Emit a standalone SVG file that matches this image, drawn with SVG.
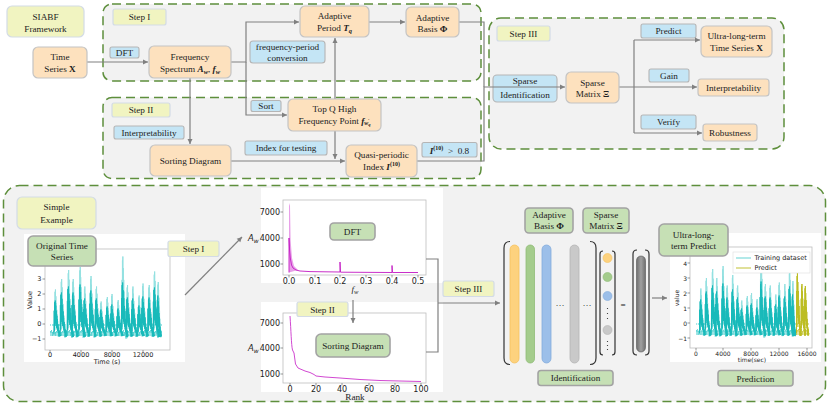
<svg xmlns="http://www.w3.org/2000/svg" xmlns:xlink="http://www.w3.org/1999/xlink" width="830" height="406" viewBox="0 0 830 406">
<style>
.t{font-family:"Liberation Serif","Times New Roman",serif;font-size:9.2px;fill:#222;text-anchor:middle;dominant-baseline:central}
.bi{font-weight:bold;font-style:italic}
.c{fill:#f2f2f2;stroke:#5e8f3c;stroke-width:1.5;stroke-dasharray:9 5}
.pe{fill:#fde1be;stroke:#c4c4c4;stroke-width:1.2}
.ye{fill:#f1f4c1;stroke:#d3dbe6;stroke-width:1.2}
.bl{fill:#c4e5f5;stroke:#b5b5b5;stroke-width:1.1}
.gr{fill:#c6e0b5;stroke:#a3a3a3;stroke-width:1.6}
.ln{fill:none;stroke:#808080;stroke-width:1.2}
.ar{marker-end:url(#ah)}
.tk{font-family:"DejaVu Sans",sans-serif;fill:#222;dominant-baseline:central}
.ax{fill:none;stroke:#bdbdbd;stroke-width:0.8}
.tm{fill:none;stroke:#555;stroke-width:0.6}
.wb{fill:#fff}
.br{fill:none;stroke:#333;stroke-width:1.2}
</style>
<defs>
<marker id="ah" markerWidth="6" markerHeight="6" refX="5" refY="3" orient="auto" markerUnits="userSpaceOnUse">
<path d="M0,0.5 L5,3 L0,5.5 z" fill="#808080"/>
</marker>
<path id="b" vector-effect="non-scaling-stroke" fill="none" d="M0,0 L0.4,-0.7 L0.8,-0.1 L1.2,-0.95 L1.5,-0.3 L1.9,-1 L2.3,-0.35 L2.7,-0.85 L3.1,-0.25 L3.5,-0.7 L3.9,-0.2 L4.3,-0.55 L4.7,-0.15 L5.1,-0.45 L5.5,-0.1 L5.9,-0.3 L6.3,-0.05 L6.7,-0.2 L7.1,0.05 L7.5,-0.12 L8,0.05 L8.5,-0.08 L9,0.05 L10,0"/>
<pattern id="nz" width="3" height="12" patternUnits="userSpaceOnUse" patternTransform="translate(0,3)">
<path d="M0,6 L0.5,3 L1,9 L1.5,5 L2,11 L2.5,4 L3,6" fill="none" stroke="#22c2c2" stroke-width="0.5"/>
</pattern>
<pattern id="nz2" width="3" height="12" patternUnits="userSpaceOnUse" patternTransform="translate(0,2)">
<path d="M0,6 L0.5,3 L1,9 L1.5,5 L2,11 L2.5,4 L3,6" fill="none" stroke="#bcbd22" stroke-width="0.5"/>
</pattern>
<linearGradient id="gb" x1="0" y1="0" x2="1" y2="0">
<stop offset="0" stop-color="#6f6f6f"/><stop offset="0.5" stop-color="#a0a0a0"/><stop offset="1" stop-color="#6f6f6f"/>
</linearGradient>
<g id="ser1">
<rect x="50" y="324" width="112" height="12" fill="url(#nz)"/>
<g stroke="#93e1e1">
<use xlink:href="#b" transform="translate(54.4,334.5) scale(0.55,45)"/>
<use xlink:href="#b" transform="translate(60.6,334.5) scale(0.55,55.5)"/>
<use xlink:href="#b" transform="translate(67.6,334.5) scale(0.55,64.5)"/>
<use xlink:href="#b" transform="translate(72.2,334.5) scale(0.55,55.5)"/>
<use xlink:href="#b" transform="translate(79.2,334.5) scale(0.55,67.5)"/>
<use xlink:href="#b" transform="translate(83.8,334.5) scale(0.55,48)"/>
<use xlink:href="#b" transform="translate(90,334.5) scale(0.55,58.5)"/>
<use xlink:href="#b" transform="translate(95.5,334.5) scale(0.55,48)"/>
<use xlink:href="#b" transform="translate(100.1,334.5) scale(0.55,33)"/>
<use xlink:href="#b" transform="translate(106.3,334.5) scale(0.55,37.5)"/>
<use xlink:href="#b" transform="translate(111,334.5) scale(0.55,40.5)"/>
<use xlink:href="#b" transform="translate(117.2,334.5) scale(0.55,34.5)"/>
<use xlink:href="#b" transform="translate(121.8,334.5) scale(0.55,78)"/>
<use xlink:href="#b" transform="translate(126.5,334.5) scale(0.55,49.5)"/>
<use xlink:href="#b" transform="translate(131.9,334.5) scale(0.55,48)"/>
<use xlink:href="#b" transform="translate(138.1,334.5) scale(0.55,39)"/>
<use xlink:href="#b" transform="translate(142,334.5) scale(0.55,51)"/>
<use xlink:href="#b" transform="translate(148.2,334.5) scale(0.55,49.5)"/>
<use xlink:href="#b" transform="translate(153.6,334.5) scale(0.55,63)"/>
<use xlink:href="#b" transform="translate(157.5,334.5) scale(0.4,52.5)"/>
</g>
<g stroke="#18baba">
<use xlink:href="#b" transform="translate(53.9,334.5) scale(0.7,34)"/>
<use xlink:href="#b" transform="translate(60.1,334.5) scale(0.7,42)"/>
<use xlink:href="#b" transform="translate(67.1,334.5) scale(0.7,48)"/>
<use xlink:href="#b" transform="translate(71.7,334.5) scale(0.7,42)"/>
<use xlink:href="#b" transform="translate(78.7,334.5) scale(0.7,50)"/>
<use xlink:href="#b" transform="translate(83.3,334.5) scale(0.7,36)"/>
<use xlink:href="#b" transform="translate(89.5,334.5) scale(0.7,44)"/>
<use xlink:href="#b" transform="translate(95,334.5) scale(0.7,36)"/>
<use xlink:href="#b" transform="translate(99.6,334.5) scale(0.7,25)"/>
<use xlink:href="#b" transform="translate(105.8,334.5) scale(0.7,28)"/>
<use xlink:href="#b" transform="translate(110.5,334.5) scale(0.7,30)"/>
<use xlink:href="#b" transform="translate(116.7,334.5) scale(0.7,26)"/>
<use xlink:href="#b" transform="translate(121.3,334.5) scale(0.7,52)"/>
<use xlink:href="#b" transform="translate(126,334.5) scale(0.7,37)"/>
<use xlink:href="#b" transform="translate(131.4,334.5) scale(0.7,36)"/>
<use xlink:href="#b" transform="translate(137.6,334.5) scale(0.7,29)"/>
<use xlink:href="#b" transform="translate(141.5,334.5) scale(0.7,38)"/>
<use xlink:href="#b" transform="translate(147.7,334.5) scale(0.7,37)"/>
<use xlink:href="#b" transform="translate(153.1,334.5) scale(0.7,47)"/>
<use xlink:href="#b" transform="translate(157,334.5) scale(0.45,39)"/>
</g>
</g>
</defs>

<g id="containers">
<rect class="c" x="103" y="4" width="378" height="77" rx="9"/>
<rect class="c" x="103" y="97.5" width="378" height="81" rx="9"/>
<rect class="c" x="489" y="18" width="295" height="131" rx="12"/>
<rect class="c" x="3.5" y="185.5" width="822" height="216" rx="16"/>
</g>

<g id="labels">
<g id="step1-label"><rect class="ye" x="113" y="9" width="53" height="16" rx="2"/><text class="t" x="139.5" y="17">Step I</text></g>
<g id="dft-label"><rect class="bl" x="110" y="47" width="29" height="11" rx="2"/><text class="t" x="124.5" y="52.5">DFT</text></g>
<g id="fpc-label"><rect class="bl" x="250" y="41" width="75" height="22" rx="3"/><text class="t" x="287.5" y="47">frequency-period</text><text class="t" x="287.5" y="57.5">conversion</text></g>
<g id="step2-label"><rect class="ye" x="112" y="103" width="58" height="14" rx="2"/><text class="t" x="141" y="110">Step II</text></g>
<g id="interp-label"><rect class="bl" x="114" y="126" width="70" height="13" rx="2"/><text class="t" x="149" y="132.5">Interpretability</text></g>
<g id="sort-label"><rect class="bl" x="251" y="100.5" width="30" height="11" rx="2"/><text class="t" x="266" y="106">Sort</text></g>
<g id="ift-label"><rect class="bl" x="245" y="141" width="82" height="14" rx="2"/><text class="t" x="286" y="148">Index for testing</text></g>
<g id="i10-label"><rect class="bl" x="422" y="142.5" width="55" height="14.5" rx="2"/><text class="t" x="449.5" y="150.5" xml:space="preserve"><tspan class="bi">I</tspan><tspan font-weight="bold" font-size="6" dy="-3">(10)</tspan><tspan dy="3">  &gt;  0.8</tspan></text></g>
<g id="step3-label"><rect class="ye" x="497" y="26" width="53" height="15" rx="2"/><text class="t" x="523.5" y="33.5">Step III</text></g>
<g id="sparse-id-label"><rect class="bl" x="493" y="75" width="64" height="27" rx="4"/><text class="t" x="525" y="80.5">Sparse</text><text class="t" x="525" y="95">Identification</text></g>
<g id="predict-label"><rect class="bl" x="641" y="24" width="55" height="14" rx="2"/><text class="t" x="668.5" y="31">Predict</text></g>
<g id="gain-label"><rect class="bl" x="649" y="69" width="40" height="13" rx="2"/><text class="t" x="669" y="75.5">Gain</text></g>
<g id="verify-label"><rect class="bl" x="641" y="115" width="55" height="14" rx="2"/><text class="t" x="668.5" y="122">Verify</text></g>
</g>

<g id="plots">
<rect class="wb" x="24" y="234" width="161" height="128"/>
<rect class="ax" x="45" y="249" width="125" height="101"/>
<use xlink:href="#ser1"/>
<path class="tm" d="M50,350v2.5M81,350v2.5M112,350v2.5M143,350v2.5M45,279h-2.5M45,294h-2.5M45,309h-2.5M45,324h-2.5M45,339h-2.5"/>
<g class="tk" font-size="6.5" text-anchor="end">
<text x="41.5" y="279">3</text><text x="41.5" y="294">2</text><text x="41.5" y="309">1</text><text x="41.5" y="324">0</text><text x="41.5" y="339">−1</text>
</g>
<g class="tk" font-size="6.5" text-anchor="middle">
<text x="50" y="355">0</text><text x="81" y="355">4000</text><text x="112" y="355">8000</text><text x="143" y="355">12000</text>
<text x="107" y="361.5">Time (s)</text>
<text x="30" y="300" transform="rotate(-90 30 300)">Value</text>
</g>

<rect class="wb" x="261" y="188" width="182" height="95"/>
<rect class="wb" x="261" y="302" width="182" height="90"/>
<rect class="ax" x="283" y="200" width="143" height="75"/>
<rect class="ax" x="283" y="313" width="143" height="70"/>
<path d="M289,272.5 L289,203 L290,206 L290.6,240 L292,258 L294,266 L298,270 L289,272.5z" fill="#e8a0e8"/>
<path d="M289,272.5 L289,238 L289.6,250 L290.3,258 L291.5,265 L293,268 L296,270 L300,271 L310,271.6 L340,272 L340,262 L340.5,272.2 L392,272.5 L392,265.5 L392.5,272.5 L418,272.5" fill="none" stroke="#c318c3" stroke-width="0.9"/>
<path d="M290,316 C291,330 291.3,345 292.5,350 L294,353 L295.5,364 L298,368 L305,371 L310,372.5 L314,374.5 L316,376 L325,377 L340,378 L360,379.5 L380,380.5 L400,381 L421,381.5" fill="none" stroke="#cc33cc" stroke-width="0.9"/>
<path class="tm" d="M289,275v2.5M315,275v2.5M340,275v2.5M366,275v2.5M392,275v2.5M418,275v2.5M283,212h-2.5M283,238h-2.5M283,264h-2.5M290,383v2.5M316,383v2.5M342,383v2.5M369,383v2.5M395,383v2.5M421,383v2.5M283,323h-2.5M283,348h-2.5M283,374h-2.5"/>
<g class="tk" font-size="8" text-anchor="end">
<text x="280" y="212">7000</text><text x="280" y="238">4000</text><text x="280" y="264">1000</text>
<text x="280" y="323">7000</text><text x="280" y="348">4000</text><text x="280" y="374">1000</text>
</g>
<g class="tk" font-size="8" text-anchor="middle">
<text x="289" y="281">0.0</text><text x="315" y="281">0.1</text><text x="340" y="281">0.2</text><text x="366" y="281">0.3</text><text x="392" y="281">0.4</text><text x="418" y="281">0.5</text>
<text x="290" y="389">0</text><text x="316" y="389">20</text><text x="342" y="389">40</text><text x="369" y="389">60</text><text x="395" y="389">80</text><text x="421" y="389">100</text>
</g>
<text class="tk" font-size="8.5" x="248" y="238" font-style="italic">A<tspan font-size="6" dy="2">w</tspan></text>
<text class="tk" font-size="8.5" x="248" y="348" font-style="italic">A<tspan font-size="6" dy="2">w</tspan></text>
<text class="t" x="355" y="289" font-style="italic" font-size="9">f<tspan font-size="6.5" dy="2">w</tspan></text>
<text class="t" x="355" y="397" font-size="8">Rank</text>

<rect class="wb" x="670" y="233" width="151" height="129"/>
<rect class="ax" x="690" y="247" width="122" height="101"/>
<use xlink:href="#ser1" transform="translate(696,323) scale(0.8955,1) translate(-50,-324)"/>
<rect x="796" y="323" width="13" height="12" fill="url(#nz2)"/>
<g stroke="#bcbd22">
<use xlink:href="#b" transform="translate(796.5,333) scale(0.5,60)"/>
<use xlink:href="#b" transform="translate(801,333) scale(0.5,49)"/>
<use xlink:href="#b" transform="translate(804.5,333) scale(0.45,47)"/>
</g>
<path class="tm" d="M696,348v2.5M723,348v2.5M751,348v2.5M779,348v2.5M807,348v2.5M690,263h-2.5M690,278h-2.5M690,293h-2.5M690,308h-2.5M690,323h-2.5M690,338h-2.5"/>
<g class="tk" font-size="6" text-anchor="end">
<text x="687" y="263">4</text><text x="687" y="278">3</text><text x="687" y="293">2</text><text x="687" y="308">1</text><text x="687" y="323">0</text><text x="687" y="338">−1</text>
</g>
<g class="tk" font-size="6" text-anchor="middle">
<text x="696" y="353">0</text><text x="723" y="353">4000</text><text x="751" y="353">8000</text><text x="779" y="353">12000</text><text x="807" y="353">16000</text>
<text x="752" y="359">time(sec)</text>
<text x="676" y="298" transform="rotate(-90 676 298)">value</text>
</g>
<rect x="733" y="252" width="77" height="21" fill="#fff" stroke="#ddd" stroke-width="0.6"/>
<path d="M736,258h15" stroke="#7fdada" stroke-width="1.2"/>
<path d="M736,268h15" stroke="#cccc55" stroke-width="1.2"/>
<text class="tk" font-size="6.5" x="754.5" y="258">Training dataset</text>
<text class="tk" font-size="6.5" x="754.5" y="268">Predict</text>

<g id="matrix">
<path class="br" d="M510,241.5 Q504,241.5 504,248 V358 Q504,364.5 510,364.5"/>
<path class="br" d="M590,241.5 Q596,241.5 596,248 V358 Q596,364.5 590,364.5"/>
<rect x="510" y="245" width="9" height="118" rx="4.5" fill="#fdd27e" stroke="#f5c15e" stroke-width="0.8"/>
<rect x="526" y="245" width="8.5" height="118" rx="4.2" fill="#a4cc8c" stroke="#8fbb76" stroke-width="0.8"/>
<rect x="542" y="245" width="9" height="118" rx="4.5" fill="#9cbfe9" stroke="#84acdc" stroke-width="0.8"/>
<rect x="570" y="245" width="9" height="118" rx="4.5" fill="#c9c9c9" stroke="#b5b5b5" stroke-width="0.8"/>
<text class="t" x="560" y="305" font-size="9">···</text>
<text class="t" x="587" y="305" font-size="9">···</text>
<path class="br" d="M603,251 Q600,251 600,254 V352 Q600,355 603,355"/>
<path class="br" d="M612,251 Q615,251 615,254 V352 Q615,355 612,355"/>
<circle cx="607.5" cy="258" r="4.5" fill="#fdd27e" stroke="#f5c15e" stroke-width="0.6"/>
<circle cx="607.5" cy="277" r="4.5" fill="#a4cc8c" stroke="#8fbb76" stroke-width="0.6"/>
<circle cx="607.5" cy="296" r="4.5" fill="#9cbfe9" stroke="#84acdc" stroke-width="0.6"/>
<circle cx="607.5" cy="330" r="4.5" fill="#c9c9c9" stroke="#b5b5b5" stroke-width="0.6"/>
<path d="M607.5,308v1M607.5,313v1M607.5,318v1M607.5,341v1M607.5,345v1M607.5,349v1" stroke="#444" stroke-width="1.1"/>
<text class="t" x="623" y="305" font-size="10">=</text>
<path class="br" d="M637,250 Q633,250 633,254 V351 Q633,355 637,355"/>
<path class="br" d="M645,250 Q649,250 649,254 V351 Q649,355 645,355"/>
<rect x="636.5" y="256" width="9" height="96" rx="4.5" fill="url(#gb)" stroke="#555" stroke-width="0.6"/>
</g>
</g>

<g id="connectors">
<path class="ln ar" d="M87,62 H148"/>
<path class="ln ar" d="M231,62 H246 V22 H299"/>
<path class="ln ar" d="M246,62 V115 H287"/>
<path class="ln ar" d="M369,22 H405"/>
<path class="ln" d="M459,22 H484 V87"/>
<path class="ln ar" d="M190,78 V144"/>
<path class="ln ar" d="M335,99 V38"/>
<path class="ln ar" d="M335,131 V159"/>
<path class="ln ar" d="M231,161 H345"/>
<path class="ln ar" d="M417,161 H484 V87 H565"/>
<path class="ln" d="M619,87 H634 M634,40 V133"/>
<path class="ln ar" d="M634,40 H700"/>
<path class="ln ar" d="M634,87 H697"/>
<path class="ln ar" d="M634,133 H702"/>
<path class="ln ar" d="M185,295 L242,237"/>
<path class="ln" d="M426,259 H438 V352 H426"/>
<path class="ln ar" d="M438,303 H500"/>
<path class="ln ar" d="M353,300 V323"/>
<path class="ln ar" d="M652,298 H667"/>
</g>

<g id="nodes">
<g id="siabf"><rect class="ye" x="7" y="6" width="77" height="31" rx="5"/><text class="t" x="45.5" y="16.5" font-size="10.5">SIABF</text><text class="t" x="45.5" y="29" font-size="10.5">Framework</text></g>
<g id="time-series"><rect class="pe" x="33" y="47" width="54" height="31" rx="5"/><text class="t" x="60" y="57">Time</text><text class="t" x="60" y="68.5">Series <tspan font-weight="bold">X</tspan></text></g>
<g id="freq-spectrum"><rect class="pe" x="149" y="46" width="82" height="32" rx="5"/><text class="t" x="190" y="57">Frequency</text><text class="t" x="190" y="68.5">Spectrum <tspan class="bi">A</tspan><tspan class="bi" font-size="6.5" dy="2">w</tspan><tspan dy="-2">, </tspan><tspan class="bi">f</tspan><tspan class="bi" font-size="6.5" dy="2">w</tspan></text></g>
<g id="adaptive-period"><rect class="pe" x="300" y="6" width="69" height="31" rx="5"/><text class="t" x="334.5" y="16">Adaptive</text><text class="t" x="334.5" y="28">Period <tspan class="bi">T</tspan><tspan class="bi" font-size="6.5" dy="2">q</tspan></text></g>
<g id="adaptive-basis"><rect class="pe" x="406" y="7" width="53" height="30" rx="5"/><text class="t" x="432.5" y="17.5">Adaptive</text><text class="t" x="432.5" y="29">Basis <tspan font-weight="bold">Φ</tspan></text></g>
<g id="sorting-diagram"><rect class="pe" x="150" y="145" width="81" height="31" rx="5"/><text class="t" x="190.5" y="161">Sorting Diagram</text></g>
<g id="top-q"><rect class="pe" x="288" y="99" width="93" height="32" rx="5"/><text class="t" x="334.5" y="109">Top Q High</text><text class="t" x="334.5" y="120.5">Frequency Point <tspan class="bi">f</tspan><tspan class="bi" font-size="6" dy="2">w</tspan><tspan class="bi" font-size="4.5" dy="1.5">q</tspan><tspan class="bi" font-size="5" dx="-2.5" dy="-4.5">′</tspan></text></g>
<g id="quasi-periodic"><rect class="pe" x="346" y="145" width="71" height="32" rx="5"/><text class="t" x="381.5" y="155">Quasi-periodic</text><text class="t" x="381.5" y="166.5">Index <tspan class="bi">I</tspan><tspan font-weight="bold" font-size="6" dy="-3">(10)</tspan></text></g>
<g id="sparse-matrix"><rect class="pe" x="566" y="72" width="53" height="31" rx="5"/><text class="t" x="592.5" y="82.5">Sparse</text><text class="t" x="592.5" y="94">Matrix <tspan font-weight="bold">Ξ</tspan></text></g>
<g id="ultra-long"><rect class="pe" x="701" y="26" width="71" height="31" rx="5"/><text class="t" x="736.5" y="36">Ultra-long-term</text><text class="t" x="736.5" y="47.5">Time Series <tspan font-weight="bold">X</tspan></text></g>
<g id="interpretability"><rect class="pe" x="698" y="79" width="71" height="17" rx="3"/><text class="t" x="733.5" y="87.5">Interpretability</text></g>
<g id="robustness"><rect class="pe" x="703" y="124" width="54" height="17" rx="3"/><text class="t" x="730" y="132.5">Robustness</text></g>

<g id="simple-example"><rect class="ye" x="17" y="197" width="79" height="32" rx="5"/><text class="t" x="56.5" y="207" font-size="10">Simple</text><text class="t" x="56.5" y="219.5" font-size="10">Example</text></g>
<g id="original-ts"><rect class="gr" x="28" y="236" width="68" height="30" rx="5"/><text class="t" x="62" y="245.5">Original Time</text><text class="t" x="62" y="256.5">Series</text></g>
<g id="b-step1"><rect class="ye" x="168" y="241" width="51" height="15.5" rx="2"/><text class="t" x="193.5" y="249">Step I</text></g>
<g id="b-dft"><rect class="gr" x="330" y="223" width="45" height="17" rx="4"/><text class="t" x="352.5" y="231.5">DFT</text></g>
<g id="b-step2"><rect class="ye" x="297" y="302" width="51" height="14.5" rx="2"/><text class="t" x="322.5" y="309.5">Step II</text></g>
<g id="b-sorting"><rect class="gr" x="316" y="334" width="74" height="23" rx="5"/><text class="t" x="353" y="345.5">Sorting Diagram</text></g>
<g id="b-step3"><rect class="ye" x="443" y="281" width="51" height="15.5" rx="2"/><text class="t" x="468.5" y="289">Step III</text></g>
<g id="b-basis"><rect class="gr" x="525" y="208" width="48" height="25" rx="4"/><text class="t" x="549" y="215">Adaptive</text><text class="t" x="549" y="226">Basis <tspan font-weight="bold">Φ</tspan></text></g>
<g id="b-sparse"><rect class="gr" x="583" y="208" width="46" height="25" rx="4"/><text class="t" x="606" y="215">Sparse</text><text class="t" x="606" y="226">Matrix <tspan font-weight="bold">Ξ</tspan></text></g>
<g id="b-identification"><rect class="gr" x="538" y="370.5" width="75" height="15" rx="3"/><text class="t" x="575.5" y="378">Identification</text></g>
<g id="b-ultra"><rect class="gr" x="659" y="224" width="69" height="32" rx="5"/><text class="t" x="693.5" y="234.5">Ultra-long-</text><text class="t" x="693.5" y="246">term Predict</text></g>
<g id="b-prediction"><rect class="gr" x="718" y="370.5" width="75" height="15.5" rx="3"/><text class="t" x="755.5" y="378.5">Prediction</text></g>
</g>
</svg>
